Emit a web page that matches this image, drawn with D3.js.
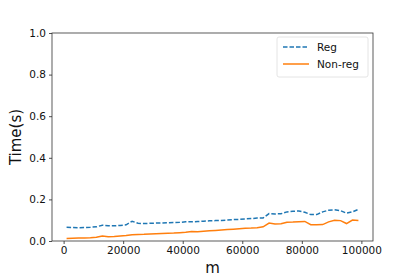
<!DOCTYPE html>
<html>
<head>
<meta charset="utf-8">
<script src="https://cdn.jsdelivr.net/npm/d3@7"></script>
<style>
  body { margin: 0; background: #fff; }
  svg { font-family: "DejaVu Sans", sans-serif; }
</style>
</head>
<body>
<script>
// m values (every 2000 from 1000 to 99000)
var mValues = d3.range(1000, 100000, 2000);
var regTimes = [
  0.066, 0.065, 0.064, 0.065, 0.066, 0.068, 0.076, 0.073, 0.073, 0.075,
  0.078, 0.095, 0.085, 0.084, 0.085, 0.086, 0.087, 0.088, 0.089, 0.090,
  0.092, 0.092, 0.094, 0.095, 0.097, 0.098, 0.099, 0.101, 0.103, 0.104,
  0.106, 0.108, 0.110, 0.111, 0.132, 0.130, 0.131, 0.140, 0.143, 0.144,
  0.138, 0.127, 0.127, 0.140, 0.148, 0.150, 0.146, 0.134, 0.140, 0.152
];
var nonRegTimes = [
  0.012, 0.013, 0.014, 0.015, 0.016, 0.018, 0.024, 0.021, 0.022, 0.024,
  0.026, 0.030, 0.031, 0.032, 0.034, 0.035, 0.036, 0.037, 0.038, 0.040,
  0.042, 0.046, 0.045, 0.047, 0.049, 0.051, 0.053, 0.055, 0.057, 0.059,
  0.061, 0.062, 0.064, 0.068, 0.086, 0.082, 0.083, 0.090, 0.091, 0.093,
  0.094, 0.078, 0.078, 0.079, 0.092, 0.100, 0.098, 0.084, 0.101, 0.099
];
var xTicks = [0, 20000, 40000, 60000, 80000, 100000];
var yTicks = [0.0, 0.2, 0.4, 0.6, 0.8, 1.0];

var width = 415, height = 277;
var plotL = 52, plotR = 373, plotT = 33, plotB = 241;

var svg = d3.select('body').append('svg').attr('width', width).attr('height', height);

// matplotlib style 5% margin on x
var xmin = d3.min(mValues), xmax = d3.max(mValues), pad = (xmax - xmin) * 0.05;
var x = d3.scaleLinear().domain([xmin - pad, xmax + pad]).range([plotL, plotR]);
var y = d3.scaleLinear().domain([0, 1]).range([plotB, plotT]);

var xAxis = svg.append('g').attr('transform', 'translate(0,' + plotB + ')')
  .call(d3.axisBottom(x).tickValues(xTicks).tickFormat(d3.format('d')).tickSize(3).tickPadding(3));
var yAxis = svg.append('g').attr('transform', 'translate(' + plotL + ',0)')
  .call(d3.axisLeft(y).tickValues(yTicks).tickFormat(d3.format('.1f')).tickSize(3).tickPadding(3));

[xAxis, yAxis].forEach(function (g) {
  g.select('.domain').remove();
  g.selectAll('line').attr('stroke', '#222').attr('stroke-width', 0.8);
  g.selectAll('text').attr('font-size', 10.5).attr('fill', '#111').attr('font-family', '"DejaVu Sans", sans-serif');
});

// frame
svg.append('rect').attr('x', plotL).attr('y', plotT)
  .attr('width', plotR - plotL).attr('height', plotB - plotT)
  .attr('fill', 'none').attr('stroke', '#333').attr('stroke-width', 0.8);

var line = d3.line()
  .x(function (d) { return x(d[0]); })
  .y(function (d) { return y(d[1]); });

svg.append('path').datum(d3.zip(mValues, regTimes))
  .attr('d', line).attr('fill', 'none')
  .attr('stroke', '#1f77b4').attr('stroke-width', 1.5)
  .attr('stroke-dasharray', '4.5,2');

svg.append('path').datum(d3.zip(mValues, nonRegTimes))
  .attr('d', line).attr('fill', 'none')
  .attr('stroke', '#ff7f0e').attr('stroke-width', 1.5);

// axis labels
svg.append('text').text('m')
  .attr('x', (plotL + plotR) / 2).attr('y', 273)
  .attr('text-anchor', 'middle').attr('font-size', 15).attr('fill', '#111');
svg.append('text').text('Time(s)')
  .attr('transform', 'translate(21,' + ((plotT + plotB) / 2) + ') rotate(-90)')
  .attr('text-anchor', 'middle').attr('font-size', 15).attr('fill', '#111');

// legend
var legend = svg.append('g');
legend.append('rect').attr('x', 277).attr('y', 37).attr('width', 91).attr('height', 40)
  .attr('rx', 2).attr('fill', '#fff').attr('stroke', '#ddd').attr('stroke-width', 0.8);
var items = [
  { name: 'Reg', color: '#1f77b4', dash: '4.5,2' },
  { name: 'Non-reg', color: '#ff7f0e', dash: null }
];
items.forEach(function (it, i) {
  var yy = 47 + i * 17;
  legend.append('line').attr('x1', 283).attr('x2', 309).attr('y1', yy).attr('y2', yy)
    .attr('stroke', it.color).attr('stroke-width', 1.5)
    .attr('stroke-dasharray', it.dash);
  legend.append('text').text(it.name).attr('x', 317).attr('y', yy + 4)
    .attr('font-size', 10.5).attr('fill', '#111');
});
</script>
</body>
</html>
